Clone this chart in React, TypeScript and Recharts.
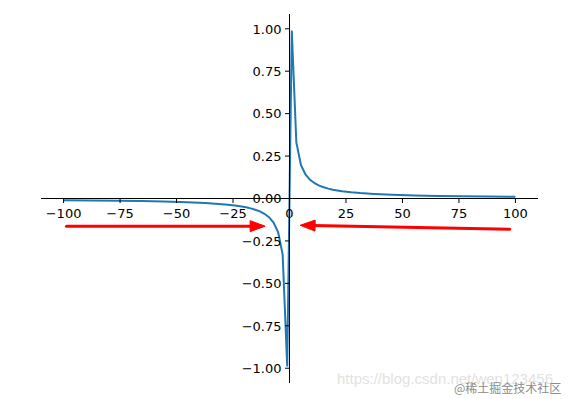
import { LineChart, Line, XAxis, YAxis, ReferenceLine } from "recharts";

const X_VALUES = [
  -100, -87.88, -75.76, -65.66, -55.56, -45.45, -37.37, -31.31, -27.27, -23.23,
  -19.19, -17.17, -15.15, -13.13, -11.11, -9.09, -7.07, -5.05, -3.03, -1.01,
  1.01, 3.03, 5.05, 7.07, 9.09, 11.11, 13.13, 15.15, 17.17, 19.19,
  23.23, 27.27, 31.31, 37.37, 45.45, 55.56, 65.66, 75.76, 87.88, 100,
];
const Y_VALUES = [
  -0.01, -0.0114, -0.0132, -0.0152, -0.018, -0.022, -0.0268, -0.0319, -0.0367, -0.043,
  -0.0521, -0.0582, -0.066, -0.0762, -0.09, -0.11, -0.1414, -0.198, -0.33, -0.99,
  0.99, 0.33, 0.198, 0.1414, 0.11, 0.09, 0.0762, 0.066, 0.0582, 0.0521,
  0.043, 0.0367, 0.0319, 0.0268, 0.022, 0.018, 0.0152, 0.0132, 0.0114, 0.01,
];
const X_TICKS = [-100, -75, -50, -25, 0, 25, 50, 75, 100];
const Y_TICKS = [-1, -0.75, -0.5, -0.25, 0, 0.25, 0.5, 0.75, 1];

// red annotation arrows: [start, tip]
const ARROW_LEFT = [
  { x: -98.7, y: -0.163 },
  { x: -10.8, y: -0.163 },
];
const ARROW_RIGHT = [
  { x: 97.5, y: -0.181 },
  { x: 4.7, y: -0.158 },
];

const W = 569;
const H = 399;
// axis boxes take the left/bottom space, the plot area is 41..538 x 14..383
const MARGIN = { top: 14, right: 31, bottom: 0, left: 0 };
const X_AXIS_H = 16;
const Y_AXIS_W = 41;
const X_DOMAIN = [-110, 110];
const Y_DOMAIN = [-1.087, 1.087];

const plotLeft = MARGIN.left + Y_AXIS_W;
const plotW = W - plotLeft - MARGIN.right;
const plotH = H - MARGIN.top - MARGIN.bottom - X_AXIS_H;
// spines sit at the data origin, like matplotlib's set_position(('data', 0))
const zeroX = plotLeft + (plotW * (0 - X_DOMAIN[0])) / (X_DOMAIN[1] - X_DOMAIN[0]);
const zeroY = MARGIN.top + (plotH * (Y_DOMAIN[1] - 0)) / (Y_DOMAIN[1] - Y_DOMAIN[0]);

const FONT = "DejaVu Sans, sans-serif";
const minus = (s: string) => s.replace("-", "\u2212");

const data = X_VALUES.map((x, i) => ({ x, y: Y_VALUES[i] }));

function XTick(props: any) {
  const { x, payload } = props;
  return (
    <g>
      <line x1={x} x2={x} y1={zeroY} y2={zeroY + 4.5} stroke="#000" strokeWidth={1} />
      <text x={x} y={zeroY + 19} textAnchor="middle" fontSize={13} fontFamily={FONT} fill="#000">
        {minus(String(payload.value))}
      </text>
    </g>
  );
}

function YTick(props: any) {
  const { y, payload } = props;
  return (
    <g>
      <line x1={zeroX - 4.5} x2={zeroX} y1={y} y2={y} stroke="#000" strokeWidth={1} />
      <text x={zeroX - 8} y={y + 4.8} textAnchor="end" fontSize={13} fontFamily={FONT} fill="#000">
        {minus(Number(payload.value).toFixed(2))}
      </text>
    </g>
  );
}

function Arrow(props: any) {
  const { x1, y1, x2, y2 } = props;
  const len = Math.hypot(x2 - x1, y2 - y1);
  const ux = (x2 - x1) / len;
  const uy = (y2 - y1) / len;
  const headL = 15;
  const headW = 5.5;
  const bx = x2 - ux * headL;
  const by = y2 - uy * headL;
  const pts = [
    `${x2},${y2}`,
    `${bx - uy * headW},${by + ux * headW}`,
    `${bx + uy * headW},${by - ux * headW}`,
  ].join(" ");
  return (
    <g>
      <line x1={x1} y1={y1} x2={bx + ux * 2} y2={by + uy * 2} stroke="#ff0000" strokeWidth={3} strokeLinecap="round" />
      <polygon points={pts} fill="#ff0000" stroke="#ff0000" strokeWidth={1} strokeLinejoin="round" />
    </g>
  );
}

export default function App() {
  return (
    <div style={{ position: "absolute", left: 0, top: 0, width: W, height: H, background: "#fff" }}>
      <LineChart width={W} height={H} data={data} margin={MARGIN}>
        <XAxis
          type="number"
          dataKey="x"
          domain={X_DOMAIN}
          ticks={X_TICKS}
          interval={0}
          height={X_AXIS_H}
          axisLine={false}
          tickLine={false}
          tick={XTick}
          allowDataOverflow
        />
        <YAxis
          type="number"
          domain={Y_DOMAIN}
          ticks={Y_TICKS}
          interval={0}
          width={Y_AXIS_W}
          axisLine={false}
          tickLine={false}
          tick={YTick}
          allowDataOverflow
        />
        <Line
          type="linear"
          dataKey="y"
          stroke="#1f77b4"
          strokeWidth={2}
          dot={false}
          isAnimationActive={false}
        />
        <ReferenceLine x={0} stroke="#000" strokeWidth={1} />
        <ReferenceLine y={0} stroke="#000" strokeWidth={1} />
        <ReferenceLine segment={ARROW_LEFT} shape={Arrow} />
        <ReferenceLine segment={ARROW_RIGHT} shape={Arrow} />
      </LineChart>
      <div
        style={{
          position: "absolute",
          left: 337,
          top: 370,
          fontFamily: "Liberation Sans, Arial, sans-serif",
          fontSize: 15,
          color: "#e2e2e2",
          whiteSpace: "nowrap",
        }}
      >
        https://blog.csdn.net/wen123456
      </div>
      <div
        style={{
          position: "absolute",
          left: 454,
          top: 379,
          fontFamily: "Noto Sans CJK SC, sans-serif",
          fontSize: 12,
          color: "#8c8c8c",
          whiteSpace: "nowrap",
        }}
      >
        @稀土掘金技术社区
      </div>
    </div>
  );
}
